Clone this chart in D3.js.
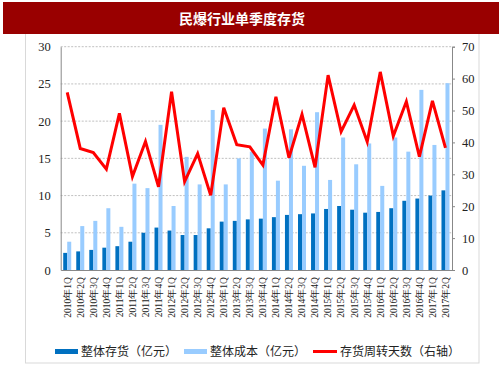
<!DOCTYPE html>
<html>
<head>
<meta charset="utf-8">
<script src="https://cdn.jsdelivr.net/npm/d3@7"></script>
<style>
  body { margin: 0; background: #fff; }
  svg { display: block; }
  .tick text { font-family: "Liberation Serif", "DejaVu Serif", serif; fill: #222; }
</style>
</head>
<body>
<div id="chart"></div>
<script>
// quarters 2010Q1 .. 2017Q2
const quarters = ["2010年1Q","2010年2Q","2010年3Q","2010年4Q","2011年1Q","2011年2Q","2011年3Q","2011年4Q",
  "2012年1Q","2012年2Q","2012年3Q","2012年4Q","2013年1Q","2013年2Q","2013年3Q","2013年4Q",
  "2014年1Q","2014年2Q","2014年3Q","2014年4Q","2015年1Q","2015年2Q","2015年3Q","2015年4Q",
  "2016年1Q","2016年2Q","2016年3Q","2016年4Q","2017年1Q","2017年2Q"];
const inventory = [2.3,2.5,2.7,3.0,3.2,3.8,5.0,5.7,5.3,4.7,4.7,5.6,6.5,6.6,6.8,6.9,
  7.1,7.4,7.5,7.6,8.2,8.6,8.1,7.7,7.8,8.3,9.3,9.6,10.0,10.7];
const cost = [3.8,5.9,6.6,8.3,5.8,11.6,11.0,19.5,8.6,15.2,11.5,21.5,11.5,15.0,15.9,19.0,
  12.0,18.9,14.0,21.2,12.1,17.8,14.2,17.0,11.3,17.8,15.9,24.2,16.8,25.1];
const turnoverDays = [55.7,38.1,36.8,31.6,49.1,29.3,40.3,26.1,55.9,27.7,36.5,23.4,50.9,39.3,38.6,32.9,
  54.3,35.2,48.8,32.2,61.1,43.4,51.7,40.2,62.1,42.0,52.8,35.5,53.0,38.3];
const leftTicks = [0,5,10,15,20,25,30];
const rightTicks = [0,10,20,30,40,50,60,70];

const W = 503, H = 378;
const m = {left: 60.7, right: 452, top: 46.7, bottom: 270};
const darkBlue = "#0070c0", lightBlue = "#99ccff", red = "#ff0000";

const svg = d3.select("#chart").append("svg").attr("width", W).attr("height", H);

// frame
svg.append("rect").attr("x", 25.5).attr("y", 20.5).attr("width", 453.5).attr("height", 342.5)
  .attr("fill", "none").attr("stroke", "#d9d9d9");

// title banner
svg.append("rect").attr("x", 3).attr("y", 2).attr("width", 496).attr("height", 32).attr("fill", "#990000");
svg.append("text").attr("x", 242).attr("y", 24).attr("text-anchor", "middle")
  .attr("fill", "#fff").style("font-family", "'Noto Sans CJK SC'").style("font-weight", "bold")
  .style("font-size", "14px").text("民爆行业单季度存货");

const x = d3.scaleBand().domain(quarters).range([m.left, m.right]);
const yL = d3.scaleLinear().domain([0, 30]).range([m.bottom, m.top]);
const yR = d3.scaleLinear().domain([0, 70]).range([m.bottom, m.top]);

// gridlines
svg.append("g").selectAll("line").data(leftTicks.slice(1)).join("line")
  .attr("x1", m.left).attr("x2", m.right).attr("y1", d => yL(d)).attr("y2", d => yL(d))
  .attr("stroke", "#b0b0b0").attr("stroke-dasharray", "2,1.5").attr("stroke-width", 0.8);

// bars
const bw = 4;
svg.append("g").selectAll("rect").data(quarters).join("rect")
  .attr("x", d => x(d) + x.bandwidth() / 2 - bw).attr("width", bw)
  .attr("y", (d, i) => yL(inventory[i])).attr("height", (d, i) => yL(0) - yL(inventory[i]))
  .attr("fill", darkBlue);
svg.append("g").selectAll("rect").data(quarters).join("rect")
  .attr("x", d => x(d) + x.bandwidth() / 2).attr("width", bw)
  .attr("y", (d, i) => yL(cost[i])).attr("height", (d, i) => yL(0) - yL(cost[i]))
  .attr("fill", lightBlue);

// line
const line = d3.line().x((d, i) => x(quarters[i]) + x.bandwidth() / 2).y(d => yR(d));
svg.append("path").datum(turnoverDays).attr("d", line)
  .attr("fill", "none").attr("stroke", red).attr("stroke-width", 3).attr("stroke-linejoin", "miter");

// axes
const axL = svg.append("g").attr("transform", `translate(${m.left},0)`)
  .call(d3.axisLeft(yL).tickValues(leftTicks).tickSize(0).tickPadding(10));
const axR = svg.append("g").attr("transform", `translate(${m.right},0)`)
  .call(d3.axisRight(yR).tickValues(rightTicks).tickSize(3).tickPadding(7));
const axB = svg.append("g").attr("transform", `translate(0,${m.bottom})`)
  .call(d3.axisBottom(x).tickSize(0).tickPadding(0));
[axL, axR, axB].forEach(a => {
  a.select(".domain").attr("stroke", "#888");
  a.selectAll(".tick line").attr("stroke", "#888");
});
axL.selectAll("text").style("font-size", "12.5px");
axR.selectAll("text").style("font-size", "12.5px");
axB.selectAll("text")
  .style("font-size", "9.5px")
  .attr("text-anchor", "end")
  .attr("transform", "translate(0,7) rotate(-90)")
  .attr("x", 0).attr("y", 0).attr("dy", "0.35em");

// legend
const lg = svg.append("g").style("font-family", "'Noto Sans CJK SC'").style("font-size", "12px").attr("fill", "#222");
lg.append("rect").attr("x", 55).attr("y", 349).attr("width", 23).attr("height", 5).attr("fill", darkBlue);
lg.append("text").attr("x", 81).attr("y", 356).text("整体存货（亿元）");
lg.append("rect").attr("x", 184).attr("y", 349).attr("width", 23).attr("height", 5).attr("fill", lightBlue);
lg.append("text").attr("x", 210).attr("y", 356).text("整体成本（亿元）");
lg.append("line").attr("x1", 313).attr("x2", 337).attr("y1", 351.5).attr("y2", 351.5)
  .attr("stroke", red).attr("stroke-width", 3);
lg.append("text").attr("x", 340).attr("y", 356).text("存货周转天数（右轴）");
</script>
</body>
</html>
